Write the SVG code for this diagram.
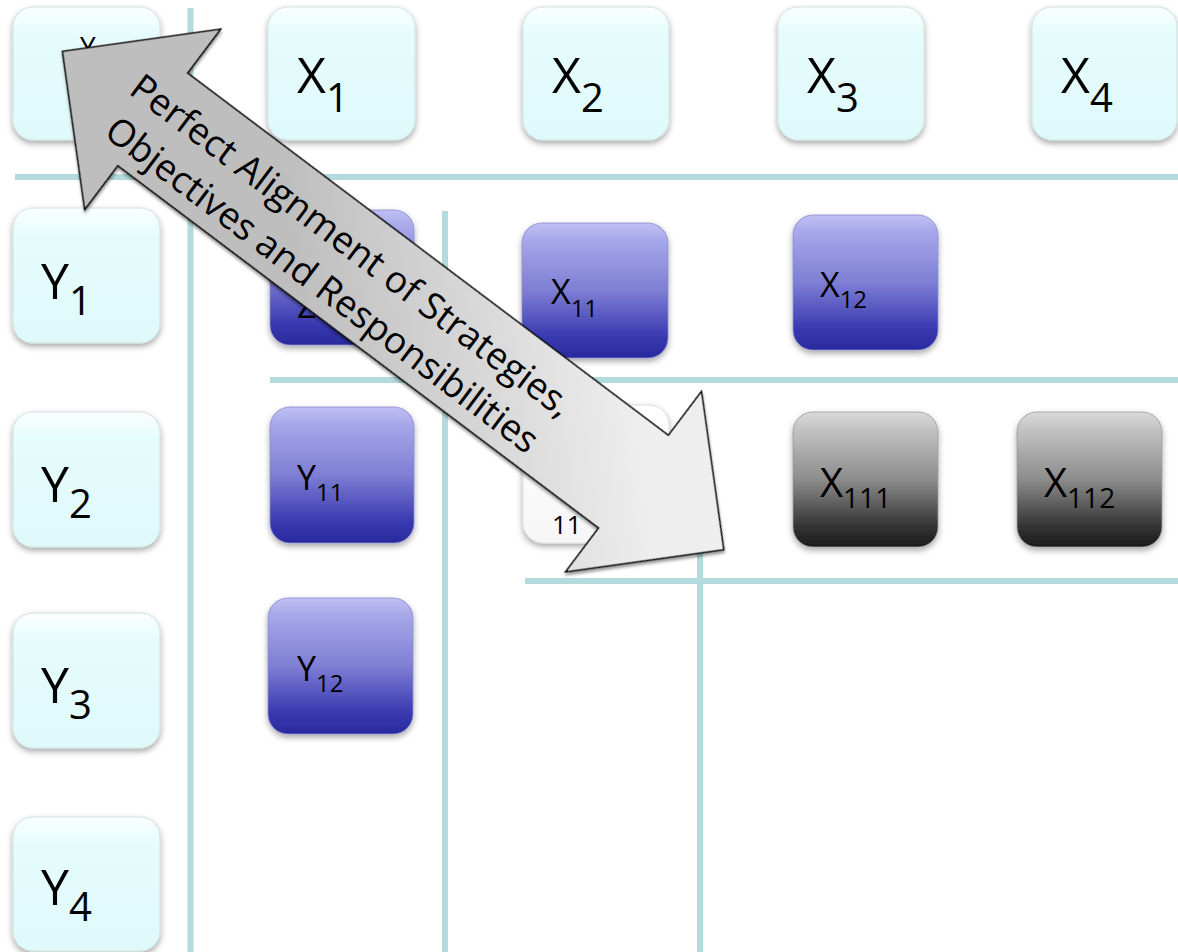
<svg xmlns="http://www.w3.org/2000/svg" width="1178" height="952" viewBox="0 0 1178 952">
<defs>
<linearGradient id="gLight" x1="0" y1="0" x2="0" y2="1">
<stop offset="0" stop-color="#fbffff"/><stop offset="0.2" stop-color="#e6fcfc"/><stop offset="1" stop-color="#dff9fa"/>
</linearGradient>
<linearGradient id="gBlue" x1="0" y1="0" x2="0" y2="1">
<stop offset="0" stop-color="#c0c0f4"/><stop offset="0.12" stop-color="#a8a8ea"/><stop offset="0.5" stop-color="#7e7ed4"/><stop offset="0.85" stop-color="#3838b0"/><stop offset="1" stop-color="#2a2a9e"/>
</linearGradient>
<linearGradient id="gGray" x1="0" y1="0" x2="0" y2="1">
<stop offset="0" stop-color="#dadada"/><stop offset="0.12" stop-color="#c4c4c4"/><stop offset="0.5" stop-color="#8c8c8c"/><stop offset="0.85" stop-color="#333333"/><stop offset="1" stop-color="#1c1c1c"/>
</linearGradient>
<linearGradient id="gWhite" x1="0" y1="0" x2="0" y2="1">
<stop offset="0" stop-color="#ffffff"/><stop offset="1" stop-color="#f6f6f6"/>
</linearGradient>
<linearGradient id="gArrow" gradientUnits="userSpaceOnUse" x1="560" y1="240" x2="335" y2="465">
<stop offset="0" stop-color="#eeeeee"/><stop offset="1" stop-color="#bebebe"/>
</linearGradient>
<filter id="sh" x="-20%" y="-20%" width="140%" height="140%">
<feDropShadow dx="0" dy="3" stdDeviation="3" flood-color="#000" flood-opacity="0.35"/>
</filter>
<filter id="ash" x="-10%" y="-10%" width="120%" height="120%">
<feDropShadow dx="2" dy="2" stdDeviation="1.5" flood-color="#000" flood-opacity="0.4"/>
</filter>
</defs>
<style>
.grid line{stroke:#b3dbdd;stroke-width:6}
.light{fill:url(#gLight);stroke:#cfe3e3;stroke-width:1;filter:url(#sh)}
.blue{fill:url(#gBlue);stroke:#8a8ad0;stroke-width:0.8;filter:url(#sh)}
.gray{fill:url(#gGray);stroke:#9a9a9a;stroke-width:0.8;filter:url(#sh)}
.white{fill:url(#gWhite);stroke:#dddddd;stroke-width:1;filter:url(#sh)}
text{font-family:"Open Sans","Noto Sans","Liberation Sans",sans-serif;fill:#000}
.lt{font-size:50px}.ls{font-size:40px}
.bt{font-size:34px}.bs{font-size:24px}
.gt{font-size:40px}.gs{font-size:28px}
.at{font-size:37px;text-anchor:middle}
</style>

<g id="grid" class="grid">
<line x1="190.5" y1="8" x2="190.5" y2="952"/>
<line x1="15" y1="177" x2="1178" y2="177"/>
<line x1="445" y1="211" x2="445" y2="952"/>
<line x1="270" y1="380" x2="1178" y2="380"/>
<line x1="700" y1="400" x2="700" y2="952"/>
<line x1="525" y1="581" x2="1178" y2="581"/>
</g>

<g id="corner"><rect class="light" x="13" y="7" width="147" height="133" rx="20"/><text x="80" y="57" style="font-size:28px">Y</text></g>
<g id="X1"><rect class="light" x="268" y="7" width="147" height="133" rx="20"/><text class="lt" x="297" y="93">X<tspan class="ls" dy="19">1</tspan></text></g>
<g id="X2"><rect class="light" x="523" y="7" width="146" height="133" rx="20"/><text class="lt" x="552" y="93">X<tspan class="ls" dy="19">2</tspan></text></g>
<g id="X3"><rect class="light" x="778" y="7" width="146" height="133" rx="20"/><text class="lt" x="807" y="93">X<tspan class="ls" dy="19">3</tspan></text></g>
<g id="X4"><rect class="light" x="1032" y="7" width="145" height="133" rx="20"/><text class="lt" x="1061" y="93">X<tspan class="ls" dy="19">4</tspan></text></g>

<g id="Y1"><rect class="light" x="13" y="208" width="147" height="135" rx="20"/><text class="lt" x="41" y="299">Y<tspan class="ls" dy="16">1</tspan></text></g>
<g id="Y2"><rect class="light" x="13" y="412" width="147" height="135" rx="20"/><text class="lt" x="41" y="502">Y<tspan class="ls" dy="16">2</tspan></text></g>
<g id="Y3"><rect class="light" x="13" y="613" width="147" height="135" rx="20"/><text class="lt" x="41" y="703">Y<tspan class="ls" dy="16">3</tspan></text></g>
<g id="Y4"><rect class="light" x="13" y="817" width="147" height="134" rx="20"/><text class="lt" x="41" y="905">Y<tspan class="ls" dy="16">4</tspan></text></g>

<g id="Z"><rect class="blue" x="270" y="210" width="144" height="135" rx="20"/><text class="bt" x="297" y="318">Z</text></g>
<g id="X11"><rect class="blue" x="522" y="223" width="146" height="135" rx="20"/><text class="bt" x="551" y="304">X<tspan class="bs" dy="13">11</tspan></text></g>
<g id="X12"><rect class="blue" x="793" y="215" width="145" height="135" rx="20"/><text class="bt" x="820" y="297">X<tspan class="bs" dy="11">12</tspan></text></g>
<g id="Y11"><rect class="blue" x="270" y="407" width="144" height="136" rx="20"/><text class="bt" x="297" y="490">Y<tspan class="bs" dy="11">11</tspan></text></g>
<g id="Y12"><rect class="blue" x="268" y="598" width="145" height="136" rx="20"/><text class="bt" x="297" y="681">Y<tspan class="bs" dy="11">12</tspan></text></g>

<g id="Z11"><rect class="white" x="523" y="405" width="146" height="138" rx="20"/><text x="552" y="534" style="font-size:26px">11</text></g>

<g id="X111"><rect class="gray" x="793" y="412" width="145" height="135" rx="20"/><text class="gt" x="820" y="497">X<tspan class="gs" dy="11">111</tspan></text></g>
<g id="X112"><rect class="gray" x="1017" y="412" width="145" height="135" rx="20"/><text class="gt" x="1044" y="497">X<tspan class="gs" dy="11">112</tspan></text></g>

<g id="alignment-arrow" transform="translate(393.1 300.5) rotate(37)">
<path d="M-414 0 L-301 -113 L-301 -58 L301 -58 L301 -113 L414 0 L301 113 L301 58 L-301 58 L-301 113 Z" fill="url(#gArrow)" stroke="#000" stroke-width="1.5" stroke-linejoin="miter" filter="url(#ash)"/>
<text class="at" x="-66" y="-6">Perfect Alignment of Strategies,</text>
<text class="at" x="-66" y="43">Objectives and Responsibilities</text>
</g>
</svg>
